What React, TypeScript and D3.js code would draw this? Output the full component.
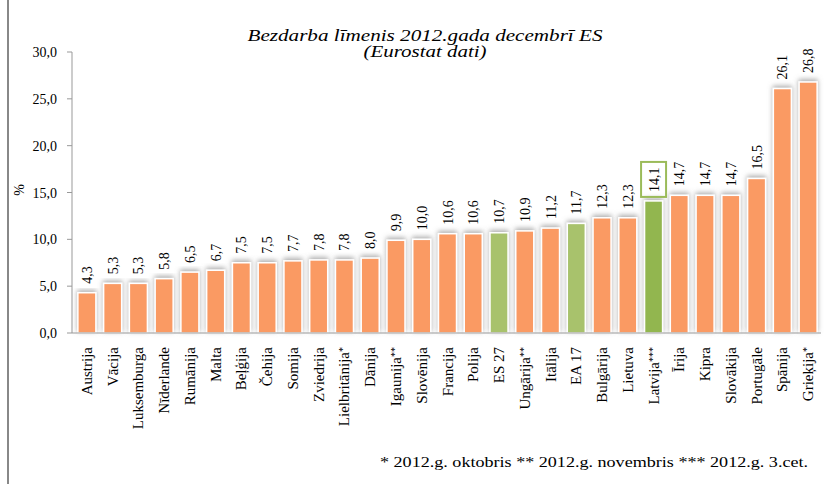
import React from "react";
import { scaleBand, scaleLinear, format } from "d3";

const countries = [
  "Austrija", "Vācija", "Luksemburga", "Nīderlande", "Rumānija", "Malta",
  "Beļģija", "Čehija", "Somija", "Zviedrija", "Lielbritānija*", "Dānija",
  "Igaunija**", "Slovēnija", "Francija", "Polija", "ES 27", "Ungārija**",
  "Itālija", "EA 17", "Bulgārija", "Lietuva", "Latvija***", "Īrija",
  "Kipra", "Slovākija", "Portugāle", "Spānija", "Grieķija*",
];
const rates = [
  4.3, 5.3, 5.3, 5.8, 6.5, 6.7, 7.5, 7.5, 7.7, 7.8, 7.8, 8.0, 9.9, 10.0,
  10.6, 10.6, 10.7, 10.9, 11.2, 11.7, 12.3, 12.3, 14.1, 14.7, 14.7, 14.7,
  16.5, 26.1, 26.8,
];
const yTicks = [0, 5, 10, 15, 20, 25, 30];
const averages = ["ES 27", "EA 17"];
const highlight = "Latvija***";

const width = 836;
const height = 484;
const serif = "'Liberation Serif', 'Times New Roman', serif";
const fmt = (v: number) => format(".1f")(v).replace(".", ",");

const data = countries.map((name, i) => ({ name, value: rates[i] }));

export default function App() {
  const x = scaleBand<string>()
    .domain(countries)
    .range([74, 821])
    .paddingInner(0.3)
    .paddingOuter(0.15);
  const y = scaleLinear().domain([0, 30]).range([333, 52]);

  const barColor = (name: string) =>
    name === highlight ? "#92b64f" : averages.includes(name) ? "#a8c26c" : "#fa9a64";

  // label split into main text and the trailing asterisks
  const splitLabel = (s: string) => {
    const m = s.match(/^(.*?)(\*+)$/);
    return m ? [m[1], m[2]] : [s, ""];
  };

  return (
    <svg
      width={width}
      height={height}
      style={{ position: "absolute", left: 0, top: 0, background: "#fff", fontFamily: serif }}
    >
      <defs>
        <filter id="barShadow" x="-40%" y="-10%" width="180%" height="120%">
          <feDropShadow dx="0" dy="-2" stdDeviation="2.4" floodColor="#777" floodOpacity="0.6" />
        </filter>
      </defs>

      <line x1={8} x2={8} y1={0} y2={height} stroke="#888" strokeWidth={2} />

      <text x={425} y={41} textAnchor="middle" fontStyle="italic" fontSize={16}
        textLength={355} lengthAdjust="spacingAndGlyphs">
        Bezdarba līmenis 2012.gada decembrī ES
      </text>
      <text x={425} y={57} textAnchor="middle" fontStyle="italic" fontSize={16}
        textLength={123} lengthAdjust="spacingAndGlyphs">
        (Eurostat dati)
      </text>

      {/* y axis */}
      <line x1={72} x2={72} y1={y(30)} y2={y(0)} stroke="#999" />
      {yTicks.map((t) => (
        <g key={t}>
          <line x1={67} x2={72} y1={y(t)} y2={y(t)} stroke="#999" />
          <text x={57} y={y(t) + 5} textAnchor="end" fontSize={14}>
            {fmt(t)}
          </text>
        </g>
      ))}
      <text transform="translate(24,190) rotate(-90)" textAnchor="middle" fontSize={14}>
        %
      </text>

      {/* bars */}
      {data.map((d) => (
        <rect
          key={d.name}
          x={x(d.name)}
          y={y(d.value)}
          width={x.bandwidth()}
          height={y(0) - y(d.value)}
          fill={barColor(d.name)}
          stroke="#fff"
          strokeWidth={1.5}
          filter="url(#barShadow)"
        />
      ))}

      <line x1={72} x2={821} y1={y(0)} y2={y(0)} stroke="#999" />

      {/* value labels */}
      {data.map((d) => {
        const cx = (x(d.name) ?? 0) + x.bandwidth() / 2;
        return (
          <text
            key={d.name}
            transform={`translate(${cx + 5},${y(d.value) - 9}) rotate(-90)`}
            fontSize={14}
          >
            {fmt(d.value)}
          </text>
        );
      })}
      {data
        .filter((d) => d.name === highlight)
        .map((d) => {
          const cx = (x(d.name) ?? 0) + x.bandwidth() / 2;
          return (
            <rect
              key="box"
              x={cx - 12.5}
              y={y(d.value) - 39}
              width={25}
              height={35}
              fill="none"
              stroke="#9bbb59"
              strokeWidth={2}
            />
          );
        })}

      {/* category labels */}
      {data.map((d) => {
        const cx = (x(d.name) ?? 0) + x.bandwidth() / 2;
        const [main, stars] = splitLabel(d.name);
        return (
          <text
            key={d.name}
            transform={`translate(${cx + 5},347) rotate(-90)`}
            textAnchor="end"
            fontSize={15}
          >
            {main}
            {stars && (
              <tspan fontSize={10} dy={-3}>
                {stars}
              </tspan>
            )}
          </text>
        );
      })}

      <text x={808} y={467} textAnchor="end" fontSize={14}
        textLength={428} lengthAdjust="spacingAndGlyphs">
        * 2012.g. oktobris ** 2012.g. novembris *** 2012.g. 3.cet.
      </text>
    </svg>
  );
}
